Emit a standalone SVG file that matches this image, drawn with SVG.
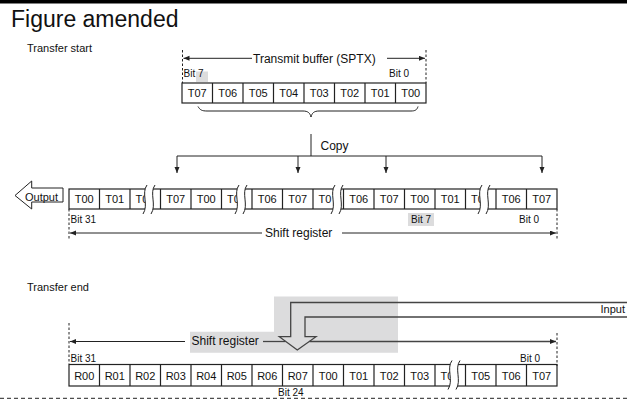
<svg xmlns="http://www.w3.org/2000/svg" width="627" height="401" viewBox="0 0 627 401">
<style>
text{font-family:"Liberation Sans",Arial,sans-serif;fill:#111}
.t{font-size:11px;text-anchor:middle}
.lbl{font-size:12px}
.bit{font-size:10px}
.cell{fill:#fff;stroke:#222;stroke-width:1.2}
.ln{fill:none;stroke:#222;stroke-width:1}
.dash{fill:none;stroke:#222;stroke-width:1;stroke-dasharray:2.5,2}
.gray{fill:#dcdcdd}
.in{fill:none;stroke:#444;stroke-width:1.3}
</style>
<defs>
<marker id="ah" markerUnits="userSpaceOnUse" markerWidth="7" markerHeight="6" refX="6" refY="2.5" orient="auto"><path d="M0,0 L6,2.5 L0,5 Z" fill="#222"/></marker>
<g id="brk">
<path d="M2,-4 C-4,4 4,16 -2,25 L6,25 C12,16 4,4 10,-4 Z" fill="#fff"/>
<path d="M2,-4 C-4,4 4,16 -2,25 M10,-4 C4,4 12,16 6,25" fill="none" stroke="#222" stroke-width="1"/>
</g>
</defs>
<rect x="0" y="0" width="627" height="3.5" fill="#000"/>
<text x="11" y="27.3" style="font-size:23px">Figure amended</text>
<text x="27" y="52.3" style="font-size:11px">Transfer start</text>
<text x="27" y="290.7" style="font-size:11px">Transfer end</text>

<g id="transmit-buffer">
<rect class="gray" x="196" y="71.5" width="12" height="10.5"/>
<text class="bit" x="183.5" y="77.3">Bit 7</text>
<text class="bit" x="389" y="77">Bit 0</text>
<rect class="cell" x="182" y="83" width="244" height="20"/>
<path class="ln" style="stroke-width:1.2" d="M212.5,83V103M243,83V103M273.5,83V103M304,83V103M334.5,83V103M365,83V103M395.5,83V103"/>
<text class="t" x="197.25" y="97">T07</text>
<text class="t" x="227.75" y="97">T06</text>
<text class="t" x="258.25" y="97">T05</text>
<text class="t" x="288.75" y="97">T04</text>
<text class="t" x="319.25" y="97">T03</text>
<text class="t" x="349.75" y="97">T02</text>
<text class="t" x="380.25" y="97">T01</text>
<text class="t" x="410.75" y="97">T00</text>
<text class="lbl" x="253" y="62.5">Transmit buffer (SPTX)</text>
</g>

<g id="shift-register-start">
<rect class="gray" x="408" y="213" width="26" height="13"/>
<text class="bit" x="70.5" y="222.7">Bit 31</text>
<text class="bit" x="411" y="223">Bit 7</text>
<text class="bit" x="519" y="223">Bit 0</text>
<rect class="cell" x="69" y="189" width="488" height="20"/>
<path class="ln" style="stroke-width:1.2" d="M99.5,189V209M130,189V209M160.5,189V209M191,189V209M221.5,189V209M252,189V209M282.5,189V209M313,189V209M343.5,189V209M374,189V209M404.5,189V209M435,189V209M465.5,189V209M496,189V209M526.5,189V209"/>
<text class="t" x="84.25" y="203">T00</text>
<text class="t" x="114.75" y="203">T01</text>
<text class="t" x="135.5" y="203" style="text-anchor:start">T0</text>
<text class="t" x="175.75" y="203">T07</text>
<text class="t" x="206.25" y="203">T00</text>
<text class="t" x="227" y="203" style="text-anchor:start">T0</text>
<text class="t" x="267.25" y="203">T06</text>
<text class="t" x="297.75" y="203">T07</text>
<text class="t" x="318.5" y="203" style="text-anchor:start">T0</text>
<text class="t" x="358.75" y="203">T06</text>
<text class="t" x="389.25" y="203">T07</text>
<text class="t" x="419.75" y="203">T00</text>
<text class="t" x="450.25" y="203">T01</text>
<text class="t" x="471" y="203" style="text-anchor:start">T0</text>
<text class="t" x="511.25" y="203">T06</text>
<text class="t" x="541.75" y="203">T07</text>
<use href="#brk" x="145" y="189"/>
<use href="#brk" x="237" y="189"/>
<use href="#brk" x="333" y="189"/>
<use href="#brk" x="480" y="189"/>
<text class="lbl" x="265" y="237">Shift register</text>
</g>

<g id="output-arrow">
<path d="M15,195.5 L31.7,181 V188 H63 V202 H31.7 V209 Z" fill="#fff" stroke="#222" stroke-width="1"/>
<text x="25" y="200.5" style="font-size:11px">Output</text>
</g>

<g id="input-area">
<path class="gray" d="M274,296.5 H398 V352.7 H190 V331.7 H274 Z"/>
<path d="M627,302.5 H290.7 V336.7 H279.3 L297.3,350 L316,336.7 H305 V317 H627" fill="#dcdcdd" stroke="none"/>
<rect x="398" y="302" width="229" height="15" fill="#fff"/>
<path class="in" d="M627,302.5 H290.7 V336.7 H279.3 L297.3,350 L316,336.7 H305 V317 H627"/>
<text x="625" y="313.3" style="font-size:11px;text-anchor:end">Input</text>
<text class="lbl" x="191.5" y="345">Shift register</text>
</g>

<g id="shift-register-end">
<text class="bit" x="70.5" y="362">Bit 31</text>
<text class="bit" x="520" y="361.5">Bit 0</text>
<text class="bit" x="278" y="396">Bit 24</text>
<rect class="cell" x="69" y="364.5" width="488" height="21.5"/>
<path class="ln" style="stroke-width:1.2" d="M99.5,364.5V386M130,364.5V386M160.5,364.5V386M191,364.5V386M221.5,364.5V386M252,364.5V386M282.5,364.5V386M313,364.5V386M343.5,364.5V386M374,364.5V386M404.5,364.5V386M435,364.5V386M465.5,364.5V386M496,364.5V386M526.5,364.5V386"/>
<text class="t" x="84.25" y="379.5">R00</text>
<text class="t" x="114.75" y="379.5">R01</text>
<text class="t" x="145.25" y="379.5">R02</text>
<text class="t" x="175.75" y="379.5">R03</text>
<text class="t" x="206.25" y="379.5">R04</text>
<text class="t" x="236.75" y="379.5">R05</text>
<text class="t" x="267.25" y="379.5">R06</text>
<text class="t" x="297.75" y="379.5">R07</text>
<text class="t" x="328.25" y="379.5">T00</text>
<text class="t" x="358.75" y="379.5">T01</text>
<text class="t" x="389.25" y="379.5">T02</text>
<text class="t" x="419.75" y="379.5">T03</text>
<text class="t" x="440.5" y="379.5" style="text-anchor:start">T0</text>
<text class="t" x="480.75" y="379.5">T05</text>
<text class="t" x="511.25" y="379.5">T06</text>
<text class="t" x="541.75" y="379.5">T07</text>
<use href="#brk" x="450" y="364.5"/>
</g>

<g id="connectors">
<path class="dash" d="M182.5,50V83M426,50V83"/>
<path class="ln" d="M252,58.3H183.5" marker-end="url(#ah)"/>
<path class="ln" d="M387,58.3H425" marker-end="url(#ah)"/>
<path class="ln" d="M198,106.5 C200,110 202,111 207,111 H303 C308,111 310,113 311,117 C312,113 314,111 319,111 H411 C415,111 417,110 418,106.5"/>
<path class="ln" d="M311,134V156M177,156H542"/>
<path class="ln" d="M177,156V173" marker-end="url(#ah)"/>
<path class="ln" d="M298,156V173" marker-end="url(#ah)"/>
<path class="ln" d="M386,156V173" marker-end="url(#ah)"/>
<path class="ln" d="M542,156V173" marker-end="url(#ah)"/>
<text class="lbl" x="320.5" y="150.3">Copy</text>
<path class="dash" d="M69,209V240M557,209V240"/>
<path class="ln" d="M262,233H70" marker-end="url(#ah)"/>
<path class="ln" d="M342,233H556" marker-end="url(#ah)"/>
<path class="dash" d="M69,323V364M557,333V366"/>
<path class="ln" d="M185,341.5H70" marker-end="url(#ah)"/>
<path class="in" d="M263,341.5H285.5"/>
<path class="in" d="M309.5,341.5H556" marker-end="url(#ah)"/>
<path d="M0,398.3H627" fill="none" stroke="#222" stroke-width="1" stroke-dasharray="4,3"/>
</g>
</svg>
